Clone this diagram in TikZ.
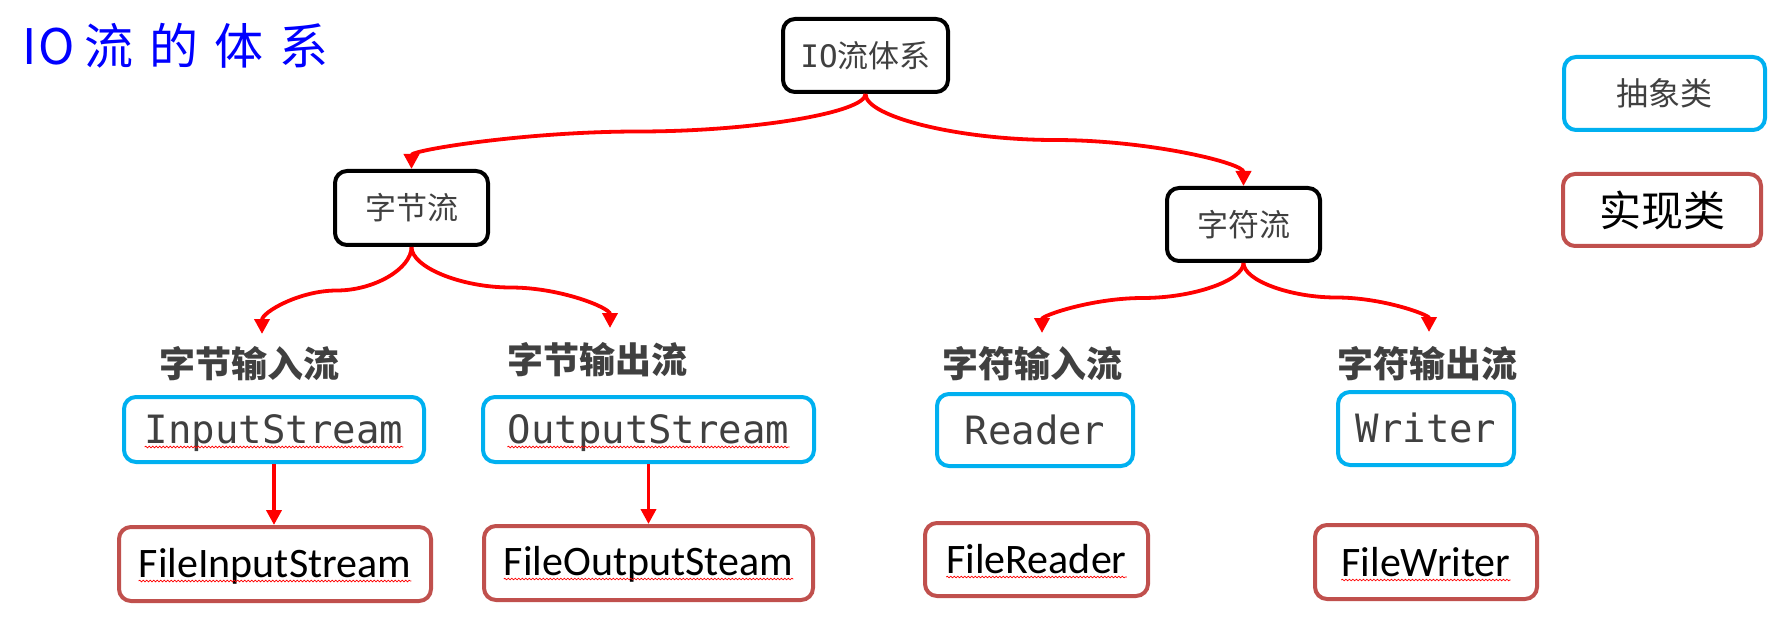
\documentclass[tikz,border=0pt]{standalone}
\usepackage{fontspec}
\setmainfont{Liberation Sans}
\newfontfamily\cjk{Noto Sans CJK SC}
\newfontfamily\monof{DejaVu Sans Mono}
\newfontfamily\calib{Carlito}
\usetikzlibrary{arrows.meta,calc,decorations.pathmorphing}
\definecolor{absblue}{HTML}{00B0F0}
\definecolor{implred}{HTML}{C0504D}
\definecolor{txtgray}{HTML}{404040}
\definecolor{arrred}{HTML}{FF0000}
\definecolor{titleblue}{HTML}{0000FF}
\begin{document}
\begin{tikzpicture}[x=1pt,y=1pt,
  box/.style={draw, line width=4pt, rounded corners=12pt, inner sep=0pt, align=center},
  cat/.style={box, draw=black, text=txtgray, font=\cjk\fontsize{31}{31}\selectfont},
  abs/.style={box, draw=absblue},
  impl/.style={box, draw=implred},
  mono/.style={inner sep=0pt, text=txtgray, font=\monof\fontsize{39}{39}\selectfont, anchor=base},
  calibri/.style={inner sep=0pt, text=black, font=\calib\fontsize{42}{42}\selectfont, anchor=base},
  lbl/.style={inner sep=0pt, text=txtgray, font=\cjk\bfseries\fontsize{36}{36}\selectfont},
  arr/.style={draw=arrred, line width=3.8pt, -{Triangle[length=15pt,width=15pt]}},
  squig/.style={draw=arrred, line width=0.7pt, decorate, decoration={snake, amplitude=0.8pt, segment length=3.5pt}},
  curv/.style={to path={let \p1=(\tikztostart), \p2=(\tikztotarget), \n1={0.5*(\x1+\x2)}, \n2={0.5*(\y1+\y2)} in .. controls (\x1,{0.5*(\y1+\n2)}) and ({0.5*(\x1+\n1)},\n2) .. (\n1,\n2) .. controls ({0.5*(\n1+\x2)},\n2) and (\x2,{0.5*(\n2+\y2)}) .. (\x2,\y2)}}
]
\useasboundingbox (0,0) rectangle (1778,-631);

% title
\node[anchor=west, inner sep=0pt, text=titleblue, font=\cjk\fontsize{49}{49}\selectfont] (title) at (22,-46)
  {I\hspace{2pt}O\hspace{10pt}流\hspace{16pt}的\hspace{16pt}体\hspace{16pt}系};

% category boxes
\node[cat, minimum width=165, minimum height=73] (top) at (865.5,-55.5) {{\monof IO}流体系};
\node[cat, minimum width=153, minimum height=74] (zj) at (411.5,-208) {字节流};
\node[cat, minimum width=153, minimum height=73] (zf) at (1243.5,-224.5) {字符流};

% legend
\node[abs, text=txtgray, font=\cjk\fontsize{32}{32}\selectfont, minimum width=201, minimum height=73] (legabs) at (1664.5,-93.5) {抽象类};
\node[impl, text=black, font=\cjk\fontsize{42}{42}\selectfont, minimum width=198, minimum height=72] (legimpl) at (1662,-210) {实现类};

% labels
\node[lbl] (l1) at (249,-364) {字节输入流};
\node[lbl] (l2) at (597,-360) {字节输出流};
\node[lbl] (l3) at (1032,-364) {字符输入流};
\node[lbl] (l4) at (1427,-364) {字符输出流};

% abstract class boxes
\node[abs, minimum width=300, minimum height=65] (is) at (274,-429.5) {};
\node[abs, minimum width=331, minimum height=65] (os) at (648.5,-429.5) {};
\node[abs, minimum width=196, minimum height=72] (rd) at (1035,-430) {};
\node[abs, minimum width=176, minimum height=73] (wr) at (1426,-428.5) {};
\node[mono] (ist) at (274,-443) {InputStream};
\node[mono] (ost) at (648.5,-443) {OutputStream};
\node[mono] (rdt) at (1035,-444) {Reader};
\node[mono] (wrt) at (1426,-442) {Writer};

% implementation boxes
\node[impl, minimum width=312, minimum height=74] (fis) at (275,-564) {};
\node[impl, minimum width=329, minimum height=74] (fos) at (648.5,-563) {};
\node[impl, minimum width=223, minimum height=73] (frd) at (1036.5,-559.5) {};
\node[impl, minimum width=222, minimum height=74] (fwr) at (1426,-562) {};
\node[calibri] (fist) at (275,-577) {FileInputStream};
\node[calibri] (fost) at (648.5,-575) {FileOutputSteam};
\node[calibri] (frdt) at (1036.5,-573) {FileReader};
\node[calibri] (fwrt) at (1426,-576) {FileWriter};

% spell-check squiggles
\foreach \t in {ist,ost,fist,fost,frdt,fwrt}
  \draw[squig] ([yshift=-4pt]\t.base west) -- ([yshift=-4pt]\t.base east);

% arrow end points
\coordinate (t1) at (262,-334);
\coordinate (t2) at (610,-328);
\coordinate (t3) at (1042,-333);
\coordinate (t4) at (1429,-332);

% connectors
\draw[arr] (top.south) to[curv] (zj.north);
\draw[arr] (top.south) to[curv] (zf.north);
\draw[arr] (zj.south) to[curv] (t1);
\draw[arr] (zj.south) to[curv] (t2);
\draw[arr] (zf.south) to[curv] (t3);
\draw[arr] (zf.south) to[curv] (t4);
\draw[arr] (is.south) -- (is.south |- fis.north);
\draw[arr] (os.south) -- (os.south |- fos.north);
\end{tikzpicture}
\end{document}
